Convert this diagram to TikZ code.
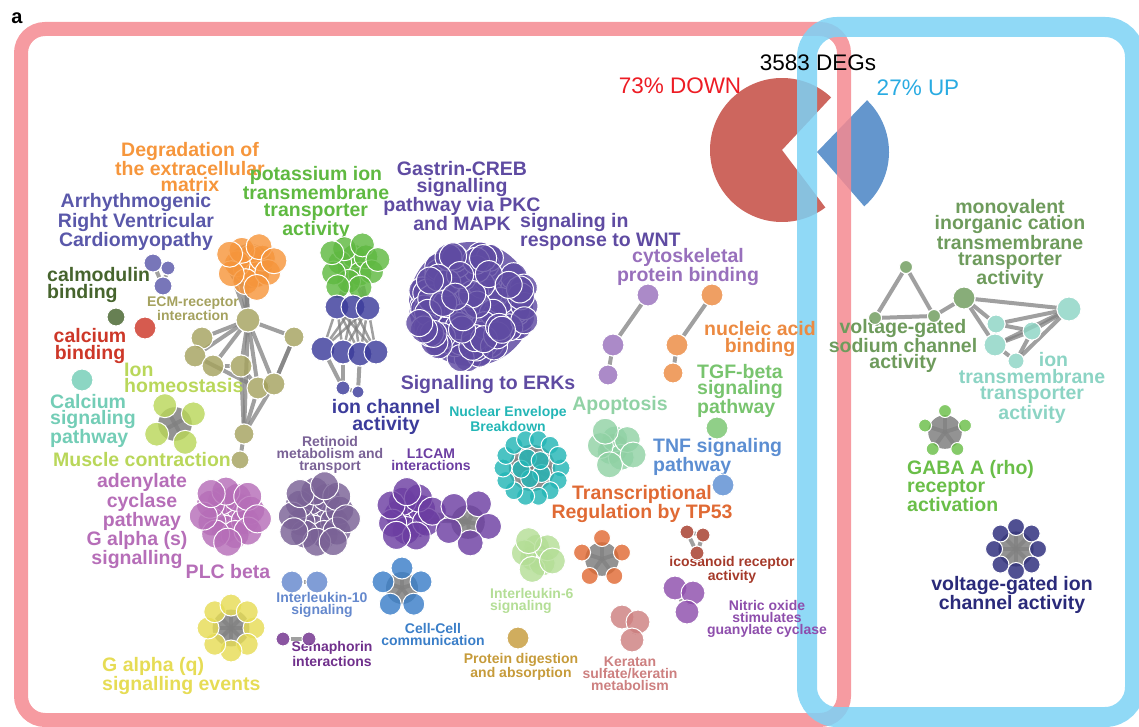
\documentclass[tikz,border=0pt]{standalone}
\usepackage{fontspec}
\setmainfont{Liberation Sans}
\usetikzlibrary{positioning}
\pgfdeclarelayer{back}
\pgfdeclarelayer{edges}
\pgfsetlayers{back,edges,main}

\definecolor{frameRed}{RGB}{245,138,145}
\definecolor{frameBlue}{RGB}{125,210,245}
\definecolor{pieRed}{RGB}{205,102,94}
\definecolor{pieBlue}{RGB}{100,150,205}
\definecolor{txtRed}{RGB}{237,28,36}
\definecolor{txtBlue}{RGB}{41,171,226}
\definecolor{cDeg}{RGB}{246,150,60}
\definecolor{cArr}{RGB}{90,88,170}
\definecolor{cCalm}{RGB}{70,100,45}
\definecolor{cCaB}{RGB}{205,55,40}
\definecolor{cCaS}{RGB}{115,205,182}
\definecolor{cOlive}{RGB}{165,162,95}
\definecolor{cLime}{RGB}{185,215,90}
\definecolor{cPot}{RGB}{95,185,65}
\definecolor{cIonCh}{RGB}{60,60,155}
\definecolor{cGas}{RGB}{95,75,162}
\definecolor{cCyto}{RGB}{152,112,188}
\definecolor{cNuc}{RGB}{236,138,65}
\definecolor{cTGF}{RGB}{120,196,110}
\definecolor{cApo}{RGB}{145,210,165}
\definecolor{cTNF}{RGB}{92,142,210}
\definecolor{cNE}{RGB}{35,182,182}
\definecolor{cRet}{RGB}{122,98,150}
\definecolor{cLone}{RGB}{108,62,162}
\definecolor{cAdc}{RGB}{182,110,184}
\definecolor{cILten}{RGB}{100,136,205}
\definecolor{cCC}{RGB}{58,126,200}
\definecolor{cGaq}{RGB}{230,220,85}
\definecolor{cSema}{RGB}{112,48,140}
\definecolor{cILsix}{RGB}{180,222,150}
\definecolor{cTP}{RGB}{224,106,52}
\definecolor{cProt}{RGB}{198,155,58}
\definecolor{cKer}{RGB}{205,128,128}
\definecolor{cIcos}{RGB}{165,58,42}
\definecolor{cNO}{RGB}{142,78,172}
\definecolor{cMono}{RGB}{110,155,92}
\definecolor{cIonT}{RGB}{140,212,196}
\definecolor{cGABA}{RGB}{106,190,72}
\definecolor{cVGI}{RGB}{42,42,122}

\tikzset{
  bub/.style={circle, inner sep=0pt, minimum size=#1, draw=white, line width=1pt, fill opacity=0.82},
  lab/.style={font=\bfseries\fontsize{19.5}{16.5}\selectfont, align=center, inner sep=0pt},
  slab/.style={font=\bfseries\fontsize{14}{12}\selectfont, align=center, inner sep=0pt},
  edge/.style={draw=gray, draw opacity=0.75, line width=4pt},
  hub/.style={fill=gray, fill opacity=0.85},
  frame/.style={line width=#1, draw opacity=0.85},
}

% packed cluster: name, cx, cy, spread, count, diameter, colour
\newcommand\blob[7]{%
  \foreach \i in {1,...,#5}{%
    \pgfmathsetmacro\rr{#4*sqrt((\i-0.5)/#5)}%
    \pgfmathsetmacro\aa{\i*137.508}%
    \node[bub=#6, fill=#7] (#1-\i) at ({#2+\rr*cos(\aa)},{#3+\rr*sin(\aa)}) {};
  }}
% loose random cluster: name, cx, cy, spread, count, diameter, colour
\newcommand\heap[7]{%
  \pgfmathsetseed{11}%
  \foreach \i in {1,...,#5}{%
    \pgfmathsetmacro\rr{#4*sqrt(rnd)}%
    \pgfmathsetmacro\aa{360*rnd}%
    \node[bub=#6, fill=#7] (#1-\i) at ({#2+\rr*cos(\aa)},{#3+\rr*sin(\aa)}) {};
  }}
% ring cluster with grey hub: name, cx, cy, radius, count, start, diameter, colour
\newcommand\ring[8]{%
  \foreach \i in {1,...,#5}{%
    \pgfmathsetmacro\aa{#6+360*(\i-1)/#5}%
    \node[bub=#7, fill=#8] (#1-\i) at ({#2+#4*cos(\aa)},{#3+#4*sin(\aa)}) {};
  }
  \begin{pgfonlayer}{edges}
    \pgfmathsetmacro\hr{0.8*#4}
    \fill[hub] (#2,#3) circle[radius=\hr pt];
    \foreach \i in {1,...,#5}{\draw[edge] (#1-\i) -- (#2,#3);}
  \end{pgfonlayer}}

\begin{document}
\begin{tikzpicture}[x=1pt,y=-1pt]
\useasboundingbox (0,0) rectangle (1139,727);

% pie chart and the two frames
\begin{pgfonlayer}{back}
  \fill[pieRed] (782,150) -- ++(47:72pt) arc[start angle=47, end angle=307, radius=72pt] -- cycle;
  \fill[pieBlue] (817,152) -- ++(-49:72pt) arc[start angle=-49, end angle=46, radius=72pt] -- cycle;
  \draw[frame=14pt, draw=frameRed, rounded corners=24pt] (21,29) rectangle (844,720);
  \draw[frame=20pt, draw=frameBlue, rounded corners=30pt] (807,27) rectangle (1135,717);
\end{pgfonlayer}

\node[font=\bfseries\fontsize{20}{20}\selectfont, inner sep=0pt] (tag) at (17,18) {a};
\node[font=\fontsize{22.5}{24}\selectfont, inner sep=0pt] (degs) at (818,63) {3583 DEGs};
\node[font=\fontsize{22.5}{24}\selectfont, inner sep=0pt, text=txtRed] (down) at (680,86) {73\% DOWN};
\node[font=\fontsize{22.5}{24}\selectfont, inner sep=0pt, text=txtBlue] (up) at (918,88) {27\% UP};

% labels
\node[lab, text=cDeg] (lDeg) at (190,167) {Degradation of\\the extracellular\\matrix};
\node[lab, text=cArr] (lArr) at (136,222) {Arrhythmogenic\\Right Ventricular\\Cardiomyopathy};
\node[lab, text=cPot] (lPot) at (316,203) {potassium ion\\transmembrane\\transporter\\activity};
\node[lab, text=cGas] (lGas) at (462,196) {Gastrin-CREB\\signalling\\pathway via PKC\\and MAPK};
\node[lab, text=cGas, align=left, anchor=west] (lWnt) at (520,232) {signaling in\\response to WNT};
\node[lab, text=cCyto] (lCyto) at (688,267) {cytoskeletal\\protein binding};
\node[lab, text=cCalm, align=left, anchor=west] (lCalm) at (47,285) {calmodulin\\binding};
\node[slab, text=cOlive] (lEcm) at (193,309) {ECM-receptor\\interaction};
\node[lab, text=cCaB] (lCaB) at (90,346) {calcium\\binding};
\node[lab, text=cLime, align=left, anchor=west] (lHom) at (124,378) {Ion\\homeostasis};
\node[lab, text=cCaS, align=left, anchor=west] (lCaS) at (50,421) {Calcium\\signaling\\pathway};
\node[lab, text=cLime, anchor=west] (lMus) at (53,460) {Muscle contraction};
\node[lab, text=cAdc] (lAdc) at (142,502) {adenylate\\cyclase\\pathway};
\node[lab, text=cAdc] (lGs) at (137,550) {G alpha (s)\\signalling};
\node[lab, text=cAdc] (lPlc) at (228,572) {PLC beta};
\node[lab, text=cGas] (lErk) at (488,384) {Signalling to ERKs};
\node[lab, text=cIonCh] (lIonCh) at (386,417) {ion channel\\activity};
\node[slab, text=cNE] (lNE) at (508,419) {Nuclear Envelope\\Breakdown};
\node[lab, text=cApo] (lApo) at (620,405) {Apoptosis};
\node[lab, text=cNuc] (lNuc) at (760,339) {nucleic acid\\binding};
\node[lab, text=cTGF, align=left, anchor=west] (lTgf) at (697,391) {TGF-beta\\signaling\\pathway};
\node[lab, text=cTNF, align=left, anchor=west] (lTnf) at (653,457) {TNF signaling\\ pathway};
\node[lab, text=cTP] (lTp) at (642,504) {Transcriptional\\Regulation by TP53};
\node[slab, text=cIcos] (lIcos) at (732,570) {icosanoid receptor\\activity};
\node[slab, text=cNO] (lNO) at (767,619) {Nitric oxide\\stimulates\\guanylate cyclase};
\node[slab, text=cILsix, align=left, anchor=west] (lIlsix) at (490,601) {Interleukin-6\\signaling};
\node[slab, text=cILten] (lIlten) at (322,605) {Interleukin-10\\signaling};
\node[slab, text=cCC] (lCC) at (433,634) {Cell-Cell\\communication};
\node[slab, text=cSema] (lSema) at (332,654) {Semaphorin\\interactions};
\node[slab, text=cProt] (lProt) at (521,667) {Protein digestion\\and absorption};
\node[slab, text=cKer] (lKer) at (630,674) {Keratan\\sulfate/keratin\\metabolism};
\node[lab, text=cGaq, align=left, anchor=west] (lGaq) at (102,676) {G alpha (q)\\signalling events};
\node[slab, text=cRet] (lRet) at (330,455) {Retinoid\\metabolism and\\transport};
\node[slab, text=cLone] (lLone) at (431,460) {L1CAM\\interactions};
\node[lab, text=cMono] (lMono) at (1010,244) {monovalent\\inorganic cation\\transmembrane\\transporter\\activity};
\node[lab, text=cMono] (lSod) at (903,346) {voltage-gated\\sodium channel\\activity};
\node[lab, text=cIonT] (lIonT) at (1032,388) {\hspace*{2.2em}ion\\transmembrane\\transporter\\activity};
\node[lab, text=cGABA, align=left, anchor=west] (lGaba) at (907,486) {GABA A (rho)\\ receptor\\ activation};
\node[lab, text=cVGI] (lVgi) at (1012,595) {voltage-gated ion\\channel activity};

% single nodes and small groups
\node[bub=18pt, fill=cArr] (arr1) at (153,263) {};
\node[bub=14pt, fill=cArr] (arr2) at (168,268) {};
\node[bub=18pt, fill=cArr] (arr3) at (163,286) {};
\node[bub=18pt, fill=cCalm] (calm) at (116,317) {};
\node[bub=22pt, fill=cCaB] (cab) at (145,328) {};
\node[bub=22pt, fill=cCaS] (cas) at (82,380) {};
\node[bub=22pt, fill=cTGF] (tgf) at (717,428) {};
\node[bub=22pt, fill=cTNF] (tnf) at (723,485) {};
\node[bub=22pt, fill=cProt] (prot) at (518,638) {};

% clusters
\blob{deg}{250}{266}{25}{13}{26pt}{cDeg}
\blob{pot}{353}{265}{27}{14}{24pt}{cPot}
\heap{gas}{471}{304}{56}{110}{27pt}{cGas}
\blob{apo}{614}{448}{21}{8}{26pt}{cApo}
\blob{ret}{318}{515}{31}{24}{28pt}{cRet}
\blob{lic}{410}{516}{25}{15}{28pt}{cLone}
\blob{adc}{229}{515}{29}{21}{28pt}{cAdc}
\blob{ilsix}{536}{555}{18}{8}{26pt}{cILsix}
\ring{lir}{468}{522}{21}{5}{-60}{26pt}{cLone}
\ring{nuc}{532}{468}{29}{14}{0}{18pt}{cNE}
\ring{nuci}{532}{468}{11}{5}{30}{18pt}{cNE}
\ring{tp}{602}{559}{21}{5}{-90}{17pt}{cTP}
\ring{cc}{402}{588}{20}{5}{-90}{22pt}{cCC}
\ring{gaq}{231}{628}{23}{8}{0}{22pt}{cGaq}
\ring{hom}{175}{424}{21}{4}{-119}{24pt}{cLime}
\ring{gaba}{945}{432}{21}{5}{-90}{13pt}{cGABA}
\ring{vgi}{1016}{549}{22}{8}{-90}{17pt}{cVGI}

% olive network
\node[bub=24pt, fill=cOlive] (ecmA) at (248,320) {};
\node[bub=22pt, fill=cOlive] (ecmB) at (202,338) {};
\node[bub=22pt, fill=cOlive] (ecmC) at (195,356) {};
\node[bub=22pt, fill=cOlive] (ecmD) at (213,366) {};
\node[bub=22pt, fill=cOlive] (ecmE) at (241,366) {};
\node[bub=22pt, fill=cOlive] (ecmF) at (258,388) {};
\node[bub=22pt, fill=cOlive] (ecmG) at (274,384) {};
\node[bub=20pt, fill=cOlive] (ecmH) at (294,337) {};
\node[bub=20pt, fill=cOlive] (ecmJ) at (244,434) {};
\node[bub=18pt, fill=cOlive] (ecmK) at (240,460) {};

% ion channel rows
\foreach \n/\x/\y in {t1/337/307, t2/353/307, t3/368/308, b1/323/349, b2/343/352, b3/360/354, b4/376/352}
  \node[bub=24pt, fill=cIonCh] (\n) at (\x,\y) {};
\node[bub=14pt, fill=cIonCh] (b5) at (343,388) {};
\node[bub=12pt, fill=cIonCh] (b6) at (358,392) {};

% two-step chains
\node[bub=22pt, fill=cCyto] (cy1) at (648,295) {};
\node[bub=22pt, fill=cCyto] (cy2) at (613,345) {};
\node[bub=20pt, fill=cCyto] (cy3) at (608,375) {};
\node[bub=22pt, fill=cNuc] (na1) at (712,295) {};
\node[bub=22pt, fill=cNuc] (na2) at (677,345) {};
\node[bub=20pt, fill=cNuc] (na3) at (673,373) {};
\node[bub=14pt, fill=cIcos] (ic1) at (687,532) {};
\node[bub=14pt, fill=cIcos] (ic2) at (703,535) {};
\node[bub=14pt, fill=cIcos] (ic3) at (697,553) {};
\node[bub=24pt, fill=cNO] (no1) at (675,588) {};
\node[bub=24pt, fill=cNO] (no2) at (693,593) {};
\node[bub=24pt, fill=cNO] (no3) at (687,612) {};
\node[bub=24pt, fill=cKer] (ke1) at (622,617) {};
\node[bub=24pt, fill=cKer] (ke2) at (638,622) {};
\node[bub=24pt, fill=cKer] (ke3) at (632,640) {};
\node[bub=22pt, fill=cILten] (il1) at (292,582) {};
\node[bub=22pt, fill=cILten] (il2) at (317,582) {};
\node[bub=14pt, fill=cSema] (se1) at (283,639) {};
\node[bub=14pt, fill=cSema] (se2) at (309,639) {};

% right side network
\node[bub=13pt, fill=cMono] (m1) at (906,267) {};
\node[bub=13pt, fill=cMono] (m2) at (875,318) {};
\node[bub=13pt, fill=cMono] (m3) at (934,316) {};
\node[bub=22pt, fill=cMono] (m4) at (964,298) {};
\node[bub=24pt, fill=cIonT] (it1) at (1069,309) {};
\node[bub=18pt, fill=cIonT] (it2) at (996,324) {};
\node[bub=18pt, fill=cIonT] (it3) at (1032,331) {};
\node[bub=22pt, fill=cIonT] (it4) at (995,345) {};
\node[bub=16pt, fill=cIonT] (it5) at (1016,361) {};

\begin{pgfonlayer}{edges}
  \fill[hub] (250,266) circle[radius=22pt];
  \fill[hub] (614,448) circle[radius=14pt];
  \fill[hub] (229,515) circle[radius=18pt];
  \fill[hub] (536,555) circle[radius=12pt];
  \fill[cGas, fill opacity=0.85] (471,304) circle[radius=62pt];
  \foreach \a/\b in {arr1/arr3, arr2/arr3, ecmA/ecmB, ecmA/ecmC, ecmA/ecmD, ecmA/ecmE,
      ecmA/ecmF, ecmA/ecmG, ecmA/ecmH, ecmA/ecmJ, ecmB/ecmC, ecmD/ecmE, ecmE/ecmF,
      ecmF/ecmG, ecmG/ecmH, ecmF/ecmJ, ecmE/ecmJ, ecmG/ecmJ, ecmJ/ecmK, ecmC/ecmF,
      deg-1/ecmA, deg-4/ecmA, deg-6/ecmA, deg-9/ecmA, ecmH/ecmG,
      pot-1/t1, pot-1/t2, pot-1/t3, pot-3/t3, pot-5/t1,
      b2/b5, b3/b6, b5/b6, b1/b5,
      cy1/cy2, cy2/cy3, na1/na2, na2/na3, ic1/ic3, ic2/ic3, ic1/ic2,
      no1/no3, no2/no3, ke1/ke3, ke2/ke3, il1/il2, se1/se2,
      m1/m2, m1/m3, m2/m3, m3/m4, m4/it1, m4/it2, m4/it4, it2/it1, it3/it1,
      it4/it1, it5/it1, it2/it3, it4/it3, it4/it5, it3/it5, it2/it4}
    \draw[edge] (\a) -- (\b);
  \foreach \a in {t1,t2,t3}
    \foreach \b in {b1,b2,b3,b4}
      \draw[edge, line width=2.5pt] (\a) -- (\b);
  \foreach \a in {lic-1,lic-2,lic-4}
    \draw[edge] (\a) -- (468,522);
\end{pgfonlayer}
\end{tikzpicture}
\end{document}
